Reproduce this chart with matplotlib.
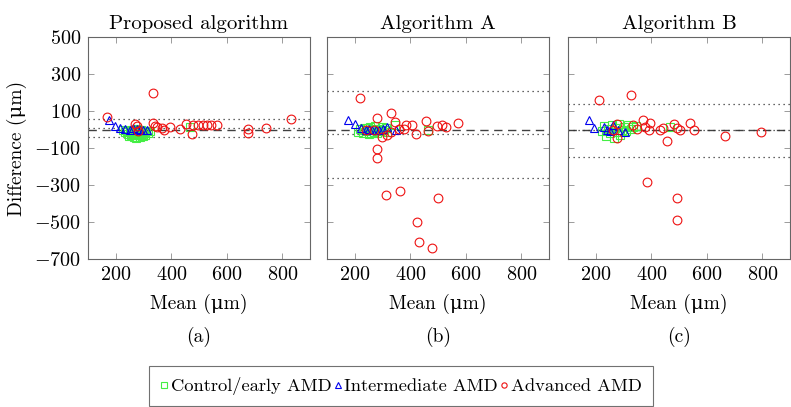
import matplotlib
matplotlib.use("Agg")
import matplotlib.pyplot as plt
from matplotlib.lines import Line2D

plt.rcParams['font.family'] = ['cmr10', 'DejaVu Serif']
plt.rcParams['mathtext.fontset'] = 'cm'
plt.rcParams['axes.formatter.use_mathtext'] = True
plt.rcParams['axes.unicode_minus'] = True

titles = ["Proposed algorithm", "Algorithm A", "Algorithm B"]
sublabels = ["(a)", "(b)", "(c)"]
xticks = [200, 400, 600, 800]
yticks = [-700, -500, -300, -100, 100, 300, 500]

# Panel (a)
a_ctrl_x = [225, 232, 240, 245, 250, 255, 258, 262, 265, 268, 270, 272, 275, 278, 280, 283, 285, 288, 290, 295, 300, 305, 310, 318, 325, 467,
            248, 260, 273, 287, 298]
a_ctrl_y = [-5, -15, -8, -25, -12, -30, 0, -20, -38, -10, -28, -45, -18, 5, -32, -12, -25, -40, -5, -22, -15, -30, -10, -20, -8, 13,
            -35, -5, -8, -15, -35]
a_int_x = [174, 198, 216, 234, 252, 262, 275, 288, 299, 311]
a_int_y = [49, 19, 10, 5, 0, 8, 2, -3, 0, 0]
a_adv_x = [170, 335, 831, 677, 677, 740, 269, 275, 335, 347, 365, 373, 395, 431, 453, 473, 479, 497, 515, 529, 545, 565, 280, 340]
a_adv_y = [68, 199, 58, 5, -19, 6, 28, 20, 35, 13, 10, -4, 13, 1, 28, -22, 23, 26, 26, 26, 26, 23, -10, 20]
a_lines = [7, 56, -42]

# Panel (b)
b_ctrl_x = [212, 220, 228, 235, 242, 250, 256, 262, 268, 274, 280, 286, 292, 298, 305, 312, 318, 345, 463,
            232, 246, 258, 271, 284, 296]
b_ctrl_y = [-15, 5, -20, 10, -8, -22, 15, 0, -12, 18, -20, 5, -10, 12, -5, 8, -15, 26, 0,
            -5, 8, -18, 3, -8, 0]
b_int_x = [176, 201, 222, 240, 252, 263, 275, 287, 300, 317, 347]
b_int_y = [49, 32, 8, 0, 5, 0, -3, 0, 4, 13, -4]
b_adv_x = [220, 281, 329, 345, 281, 279, 311, 362, 499, 424, 431, 480, 457, 465, 497, 515, 529, 571, 386, 408, 379, 420, 299, 317, 329, 240, 269, 359]
b_adv_y = [172, 60, 89, 41, -106, -152, -352, -331, -369, -502, -610, -643, 44, -10, 17, 22, 14, 33, 26, 23, 5, -26, -40, -28, -13, 0, -4, 3]
b_lines = [-27, 208, -262]

# Panel (c)
c_ctrl_x = [222, 230, 238, 245, 252, 258, 265, 270, 276, 282, 288, 295, 302, 310, 318, 326, 335, 345, 467]
c_ctrl_y = [-10, 20, -35, 5, -20, 25, -45, 10, -15, 28, -30, 0, 15, -8, 22, 5, 12, 18, 13]
c_int_x = [177, 194, 228, 240, 252, 263, 281, 305]
c_int_y = [49, 10, 14, 0, -6, 23, 0, -13]
c_adv_x = [213, 326, 369, 395, 386, 491, 493, 455, 483, 493, 505, 539, 553, 667, 795, 431, 393, 377, 333, 347, 275, 275, 263, 443]
c_adv_y = [157, 184, 53, 37, -285, -372, -490, -60, 28, 8, -4, 33, 0, -33, -12, 0, 0, 13, 23, 5, 32, -44, -4, 8]
c_lines = [-5, 139, -150]

panels = [
    (a_ctrl_x, a_ctrl_y, a_int_x, a_int_y, a_adv_x, a_adv_y, a_lines),
    (b_ctrl_x, b_ctrl_y, b_int_x, b_int_y, b_adv_x, b_adv_y, b_lines),
    (c_ctrl_x, c_ctrl_y, c_int_x, c_int_y, c_adv_x, c_adv_y, c_lines),
]

W, H = 791, 407
fig = plt.figure(figsize=(W / 100, H / 100), dpi=100)
lefts = [88, 327, 568]
axw, axh = 222, 222
top = 37

green = '#44ee44'
blue = '#0000ee'
red = '#ee1111'
ms = 6.0
fs = 14.5

for i, (cx, cy, ix, iy, ax_, ay_, lines) in enumerate(panels):
    ax = fig.add_axes([lefts[i] / W, 1 - (top + axh) / H, axw / W, axh / H])
    ax.set_xlim(100, 900)
    ax.set_ylim(-700, 500)
    ax.axhline(0, color='0.25', lw=1.0, ls=(0, (6, 4)), zorder=1)
    mean, up, lo = lines
    for v in (mean, up, lo):
        ax.axhline(v, color='0.2', lw=0.9, ls=(0, (1, 3)), zorder=1)
    ax.plot(cx, cy, ls='none', marker='s', ms=ms, mfc='none', mec=green, mew=0.8, zorder=3)
    ax.plot(ix, iy, ls='none', marker='^', ms=ms, mfc='none', mec=blue, mew=0.8, zorder=4)
    ax.plot(ax_, ay_, ls='none', marker='o', ms=ms + 0.3, mfc='none', mec=red, mew=0.8, zorder=5)
    ax.set_xticks(xticks)
    ax.set_yticks(yticks)
    ax.tick_params(direction='in', top=True, right=True, length=4, width=0.6,
                   color='0.55', labelsize=fs, pad=5)
    if i > 0:
        ax.set_yticklabels([])
    else:
        ax.set_ylabel('Difference (μm)', fontsize=14, labelpad=5)
    for s in ax.spines.values():
        s.set_color('0.4')
        s.set_linewidth(0.8)
    ax.set_title(titles[i], fontsize=15, pad=6)
    ax.set_xlabel('Mean (μm)', fontsize=14, labelpad=7)
    fig.text((lefts[i] + axw / 2) / W, 1 - 337 / H, sublabels[i], fontsize=14,
             ha='center', va='center')

handles = [
    Line2D([], [], ls='none', marker='s', ms=3.8, mfc='none', mec=green, mew=0.8),
    Line2D([], [], ls='none', marker='^', ms=3.8, mfc='none', mec=blue, mew=0.8),
    Line2D([], [], ls='none', marker='o', ms=3.8, mfc='none', mec=red, mew=0.8),
]
labels = ['Control/early AMD', 'Intermediate AMD', 'Advanced AMD']
leg = fig.legend(handles, labels, loc='center', bbox_to_anchor=(401 / W, 1 - 386 / H),
                 ncol=3, fontsize=13.3, frameon=True, fancybox=False, handlelength=0.4,
                 handletextpad=0.15, columnspacing=0.15, borderpad=0.6, borderaxespad=0)
leg.get_frame().set_edgecolor('0.3')
leg.get_frame().set_linewidth(0.8)

fig.savefig('out.png', dpi=100)
